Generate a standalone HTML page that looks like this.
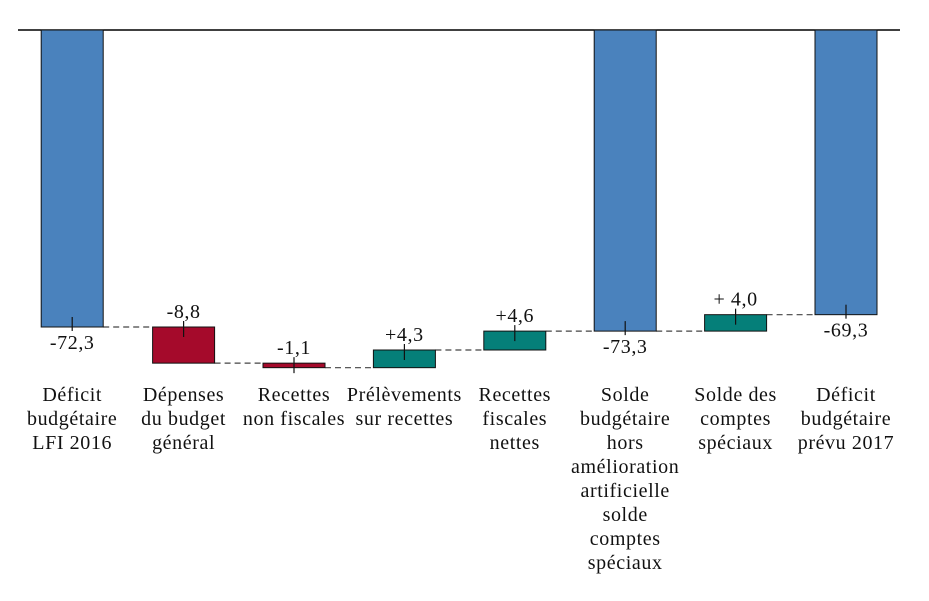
<!DOCTYPE html>
<html><head><meta charset="utf-8">
<style>
html,body{margin:0;padding:0;background:#fff;}
svg{display:block;}
text{font-family:"Liberation Serif",serif;font-size:20px;letter-spacing:0.6px;fill:#111;}
</style></head>
<body>
<svg id="chart" width="929" height="601" viewBox="0 0 929 601"></svg>
<script>
const categories = [
  ["Déficit","budgétaire","LFI 2016"],
  ["Dépenses","du budget","général"],
  ["Recettes","non fiscales"],
  ["Prélèvements","sur recettes"],
  ["Recettes","fiscales","nettes"],
  ["Solde","budgétaire","hors","amélioration","artificielle","solde","comptes","spéciaux"],
  ["Solde des","comptes","spéciaux"],
  ["Déficit","budgétaire","prévu 2017"]
];
const deltas = [-72.3, -8.8, -1.1, 4.3, 4.6, 0, 4.0, 0];
const kinds = ["total","neg","neg","pos","pos","total","pos","total"];
const totals = [-72.3, null, null, null, null, -73.3, null, -69.3];
const valueLabels = ["-72,3","-8,8","-1,1","+4,3","+4,6","-73,3","+ 4,0","-69,3"];

const NS = "http://www.w3.org/2000/svg";
const svg = document.getElementById("chart");
const y0 = 30, pxPerUnit = 297/72.3;
const y = v => y0 - v*pxPerUnit;
const slot = 110.4, xStart = 18, barW = 62;
const xc = i => xStart + slot*i + slot/2 + (i===0?-1:0);
const colors = {total:"#4a82bd", neg:"#a50a2b", pos:"#057f79"};

function mk(tag, attrs){const e=document.createElementNS(NS,tag);for(const k in attrs)e.setAttribute(k,attrs[k]);svg.appendChild(e);return e;}

const ax = mk("line",{x1:18,x2:900,y1:y0,y2:y0,stroke:"#000","stroke-width":1.5});



let running = 0;
const ends = [];
for (let i=0;i<categories.length;i++){
  let start, end;
  if (kinds[i]==="total"){ start=0; end=totals[i]; running=totals[i]; }
  else { start=running; end=running+deltas[i]; running=end; }
  ends.push({start,end});
}
for (let i=0;i<categories.length-1;i++){
  const v = ends[i].end;
  const l = mk("line",{x1:xc(i)+barW/2,x2:xc(i+1)-barW/2,y1:y(v),y2:y(v),stroke:"#444","stroke-width":1.2,"stroke-dasharray":"6,4"});
  
  
}
for (let i=0;i<categories.length;i++){
  const {start,end} = ends[i];
  const top = Math.min(y(start),y(end)), h = Math.abs(y(start)-y(end));
  const r = mk("rect",{x:xc(i)-barW/2,y:top,width:barW,height:Math.max(h,1),fill:colors[kinds[i]],stroke:"#111","stroke-width":1});
  
  
  let tickY1, tickY2, ly;
  if (kinds[i]==="total"){ const b=y(end); tickY1=b-10; tickY2=b+4; ly=b+22; }
  else { const t=top; tickY1=t-6; tickY2=t+10; ly=t-9; }
  const tk = mk("line",{x1:xc(i),x2:xc(i),y1:tickY1,y2:tickY2,stroke:"#111","stroke-width":1.2});
  
  
  const vl = mk("text",{x:xc(i),y:ly,"text-anchor":"middle"});
  vl.textContent = valueLabels[i];
  
  
  const cl = mk("text",{x:xc(i),y:401,"text-anchor":"middle"});
  
  
  categories[i].forEach((line,k)=>{
    const ts=document.createElementNS(NS,"tspan");
    ts.setAttribute("x",xc(i)); ts.setAttribute("y",401+24*k);
    ts.textContent=line; cl.appendChild(ts);
  });
}
</script>
</body></html>
